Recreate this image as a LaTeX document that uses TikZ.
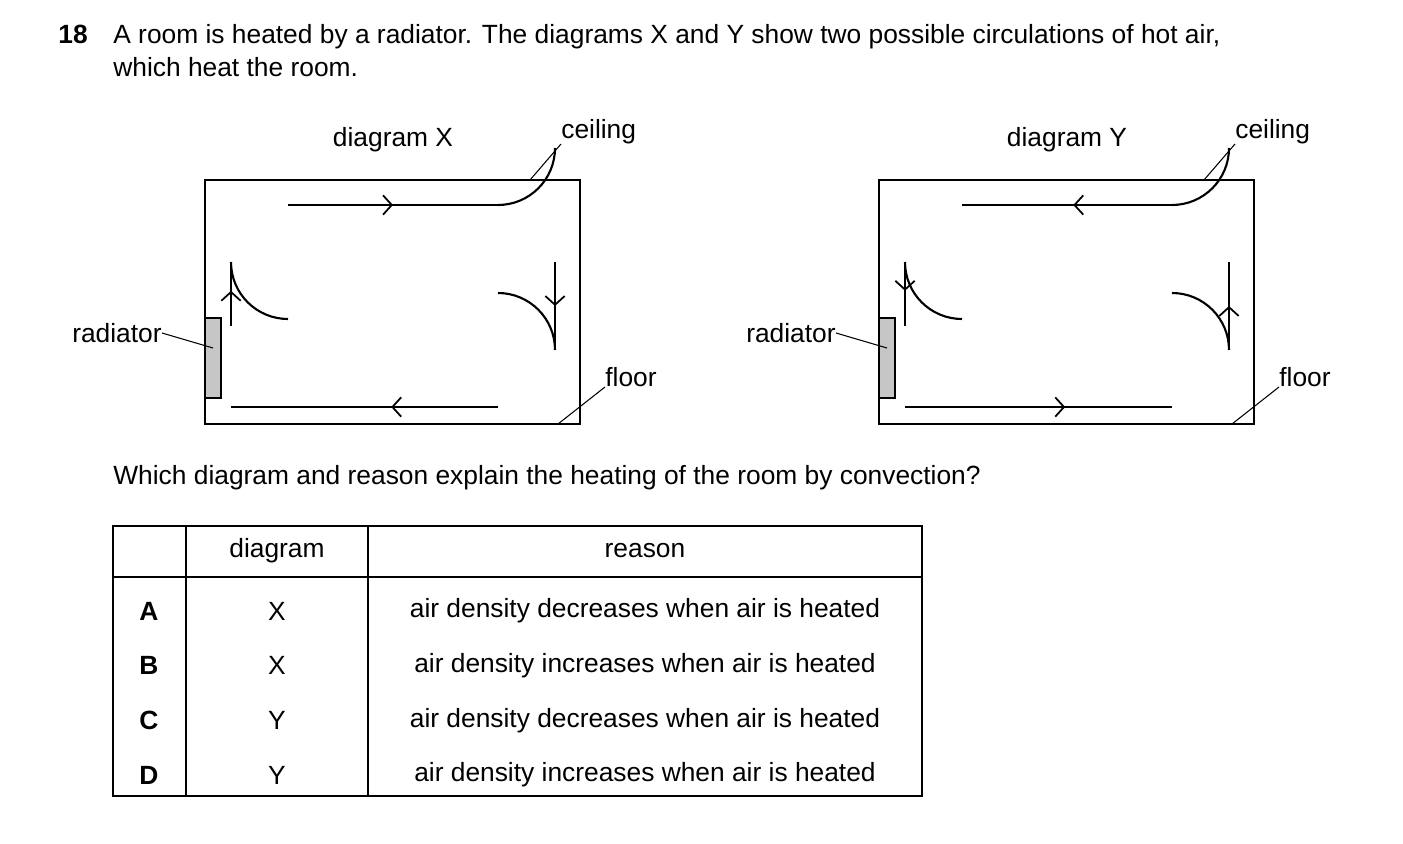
\documentclass[tikz,border=0pt]{standalone}
\usepackage{fontspec}
\setmainfont{Liberation Sans}
\usetikzlibrary{arrows.meta,decorations.markings}
\tikzset{
  txt/.style={font=\fontsize{15}{18}\selectfont, inner sep=0pt},
  room/.style={line width=1.3pt},
  flow/.style={line width=1.2pt},
  mid/.style={flow, postaction={decorate}, decoration={markings,
     mark=at position #1 with {\arrow{Straight Barb[length=5pt,width=11pt,line width=1pt]}}}},
  mid/.default=0.5,
  lead/.style={line width=0.6pt}
}
\begin{document}
\begin{tikzpicture}[x=0.02cm,y=-0.02cm]
  \useasboundingbox (0,0) rectangle (1403,844);

  % question
  \node[txt, font=\fontsize{15}{18}\selectfont\bfseries, anchor=base west] (num) at (58,44) {18};
  \node[txt, anchor=base west] (q1) at (113,44) {A room is heated by a radiator. The diagrams X and Y show two possible circulations of hot air,};
  \node[txt, anchor=base west] (q2) at (113,77) {which heat the room.};

  % diagram X
  \begin{scope}
    \draw[room] (205,180) rectangle (580,424);
    \draw[line width=1pt, fill=gray!45] (205,318) rectangle (221,398);
    \draw[mid=0.55] (231,326) -- (231,262);
    \draw[flow] (231,262) arc[start angle=180, end angle=90, radius=57];
    \draw[mid] (288,205) -- (498,205);
    \draw[flow] (498,205) arc[start angle=90, end angle=0, radius=57];
    \draw[mid] (555,262) -- (555,350);
    \draw[flow] (555,350) arc[start angle=0, end angle=-90, radius=57];
    \draw[mid=0.4] (498,407) -- (231,407);
    \node[txt] (titX) at (393,140) {diagram X};
    \node[txt, anchor=south west] (ceilX) at (561,144) {ceiling};
    \draw[lead] (530,180) -- (ceilX.south west);
    \node[txt, anchor=south west] (floorX) at (605,387) {floor};
    \draw[lead] (558,424) -- (floorX.south west);
    \node[txt, anchor=east] (radX) at (162,333) {radiator};
    \draw[lead] (radX.east) -- (213,348);
  \end{scope}

  % diagram Y
  \begin{scope}[xshift=674*0.02cm]
    \draw[room] (205,180) rectangle (580,424);
    \draw[line width=1pt, fill=gray!45] (205,318) rectangle (221,398);
    \draw[mid=0.45] (231,262) -- (231,326);
    \draw[flow] (231,262) arc[start angle=180, end angle=90, radius=57];
    \draw[mid=0.47] (498,205) -- (288,205);
    \draw[flow] (498,205) arc[start angle=90, end angle=0, radius=57];
    \draw[mid] (555,350) -- (555,262);
    \draw[flow] (555,350) arc[start angle=0, end angle=-90, radius=57];
    \draw[mid=0.6] (231,407) -- (498,407);
    \node[txt] (titY) at (393,140) {diagram Y};
    \node[txt, anchor=south west] (ceilY) at (561,144) {ceiling};
    \draw[lead] (530,180) -- (ceilY.south west);
    \node[txt, anchor=south west] (floorY) at (605,387) {floor};
    \draw[lead] (558,424) -- (floorY.south west);
    \node[txt, anchor=east] (radY) at (162,333) {radiator};
    \draw[lead] (radY.east) -- (213,348);
  \end{scope}

  \node[txt, anchor=base west] (ask) at (113,484) {Which diagram and reason explain the heating of the room by convection?};

  % table
  \draw[line width=0.8pt] (113,526) rectangle (922,796);
  \draw[line width=0.8pt] (186,526) -- (186,796) (368,526) -- (368,796) (113,577) -- (922,577);
  \node[txt] (hd) at (277,551) {diagram};
  \node[txt] (hr) at (645,551) {reason};
  \foreach \l/\d/\r [count=\i from 0] in {A/X/decreases, B/X/increases, C/Y/decreases, D/Y/increases} {
    \node[txt, font=\fontsize{15}{18}\selectfont\bfseries] (l\l) at (149,611+54.7*\i) {\l};
    \node[txt] (d\l) at (277,611+54.7*\i) {\d};
    \node[txt] (r\l) at (645,611+54.7*\i) {air density \r\ when air is heated};
  }
\end{tikzpicture}
\end{document}
